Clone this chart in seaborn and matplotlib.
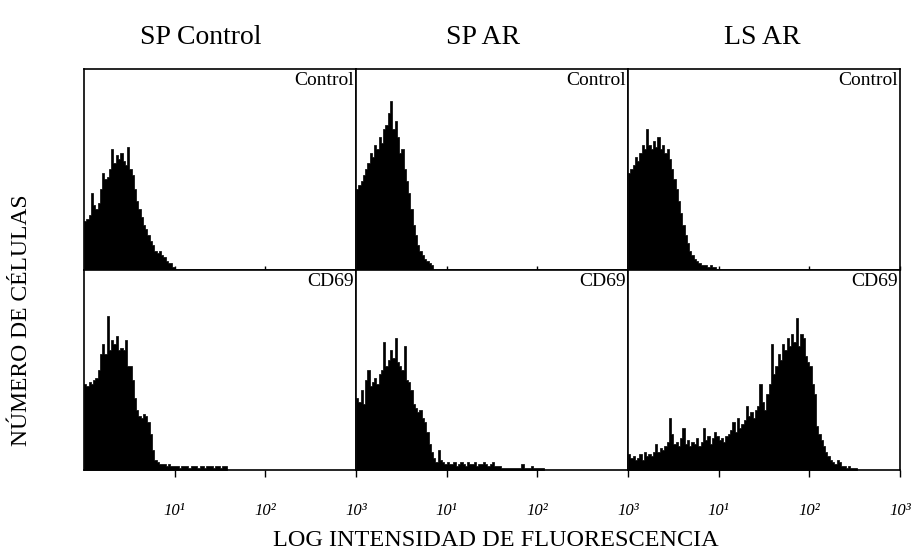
import numpy as np
import matplotlib
matplotlib.use("Agg")
import matplotlib.pyplot as plt
from matplotlib.ticker import NullLocator
import seaborn as sns

# ---------------- data (percent of panel height, bins of 0.025 decade from 10^0) -------------
BIN = 0.025
columns = ["SP Control", "SP AR", "LS AR"]
rows = ["Control", "CD69"]
tick_values = [10, 100, 1000]
tick_labels = ["10¹", "10²", "10³"]
x_label = "LOG INTENSIDAD DE FLUORESCENCIA"
y_label = "NÚMERO DE CÉLULAS"

sp_control_control = [24, 25, 27, 38, 32, 30, 33, 40, 48, 45, 46, 50, 60, 53, 57, 55, 58, 54,
                      52, 61, 50, 47, 40, 34, 30, 26, 22, 20, 17, 14, 12, 9, 8, 9, 7, 6, 4, 3, 3, 1]

sp_ar_control = [40, 42, 44, 47, 50, 53, 58, 56, 62, 60, 66, 63, 70, 72, 78, 84, 70, 74, 66, 58,
                 60, 50, 44, 38, 30, 22, 17, 12, 9, 7, 5, 4, 3, 2]

ls_ar_control = [48, 50, 52, 56, 54, 58, 62, 60, 70, 62, 60, 64, 61, 66, 60, 62, 58, 60, 55, 50,
                 45, 40, 34, 28, 22, 17, 13, 9, 7, 5, 4, 3, 2, 2, 2, 1, 2, 1, 1]

sp_control_cd69 = [43, 42, 44, 43, 45, 46, 50, 58, 63, 58, 77, 60, 65, 63, 67, 60, 61, 60, 65, 52,
                   52, 45, 36, 30, 27, 26, 28, 27, 24, 18, 10, 5, 4, 3, 3, 3, 2, 3, 2, 2,
                   2, 2, 1, 2, 2, 2, 1, 2, 2, 2, 1, 2, 2, 1, 2, 2, 2, 1, 2, 2, 1, 2, 2]

sp_ar_cd69 = [36, 34, 40, 33, 45, 50, 42, 44, 46, 43, 48, 50, 64, 52, 55, 60, 56, 66, 54, 52,
              50, 62, 45, 44, 40, 33, 31, 29, 30, 26, 24, 19, 13, 9, 6, 4, 10, 5, 4, 3,
              4, 3, 3, 4, 2, 3, 4, 3, 2, 4, 3, 3, 4, 2, 3, 3, 4, 3, 2, 3,
              4, 2, 2, 2, 1, 1, 1, 1, 1, 1, 1, 1, 1, 3, 1, 1, 1, 2, 1, 1,
              1, 1, 1]

ls_ar_cd69 = [8, 6, 7, 5, 6, 8, 5, 9, 7, 8, 7, 9, 13, 9, 11, 10, 12, 14, 26, 18,
              13, 14, 12, 16, 21, 13, 15, 12, 14, 13, 16, 12, 14, 21, 15, 17, 13, 16, 19, 17,
              15, 16, 14, 17, 18, 20, 24, 19, 26, 21, 23, 25, 32, 27, 29, 26, 30, 32, 43, 34,
              30, 38, 43, 63, 48, 52, 58, 55, 63, 60, 66, 62, 68, 64, 76, 62, 68, 66, 57, 54,
              52, 43, 38, 22, 18, 15, 12, 9, 7, 5, 4, 3, 5, 4, 2, 2, 1, 2, 1, 1,
              1]

panels = {
    ("SP Control", "Control"): sp_control_control,
    ("SP AR", "Control"): sp_ar_control,
    ("LS AR", "Control"): ls_ar_control,
    ("SP Control", "CD69"): sp_control_cd69,
    ("SP AR", "CD69"): sp_ar_cd69,
    ("LS AR", "CD69"): ls_ar_cd69,
}

# ---------------- style ----------------
sns.set_theme(style="white")
plt.rcParams["font.family"] = ["Liberation Serif", "DejaVu Serif"]

fig, axes = plt.subplots(2, 3, figsize=(9.16, 5.54), dpi=100)
fig.subplots_adjust(left=84 / 916, right=900 / 916, top=1 - 69 / 554, bottom=1 - 470 / 554,
                    wspace=0, hspace=0)

for r, row in enumerate(rows):
    for c, col in enumerate(columns):
        ax = axes[r, c]
        vals = np.asarray(panels[(col, row)], dtype=float)
        n = len(vals)
        centers = 10 ** ((np.arange(n) + 0.5) * BIN)
        sns.histplot(x=centers, weights=vals, binwidth=BIN, binrange=(0, n * BIN),
                     log_scale=True, element="step", fill=True, color="black",
                     alpha=1, linewidth=0.5, ax=ax)
        ax.set_xlim(1, 1000)
        ax.set_ylim(0, 100)
        ax.set_xlabel("")
        ax.set_ylabel("")
        ax.set_xticks(tick_values)
        ax.xaxis.set_minor_locator(NullLocator())
        ax.set_yticks([])
        for s in ax.spines.values():
            s.set_color("black")
            s.set_linewidth(1.2)
        if r == 1:
            ax.set_xticklabels(tick_labels, fontsize=12, style="italic")
            ax.tick_params(axis="x", bottom=True, direction="out", length=5, width=1,
                           color="black", pad=19, labelcolor="black")
        else:
            ax.set_xticklabels([])
            ax.tick_params(axis="x", bottom=True, direction="in", length=3, width=1,
                           color="black")
        ax.text(0.993, 0.985, row, transform=ax.transAxes, ha="right", va="top",
                fontsize=14, color="black")

title_x = [201, 483, 762]
for name, xp in zip(columns, title_x):
    fig.text(xp / 916, 1 - 37 / 554, name, ha="center", va="center", fontsize=20,
             color="black")

fig.text(496 / 916, 1 - 540 / 554, x_label, ha="center", va="center", fontsize=17.5,
         color="black")
fig.text(22 / 916, 1 - 320 / 554, y_label, ha="center", va="center", rotation=90,
         fontsize=17, color="black")

fig.savefig("out.png", dpi=100, facecolor="white")
